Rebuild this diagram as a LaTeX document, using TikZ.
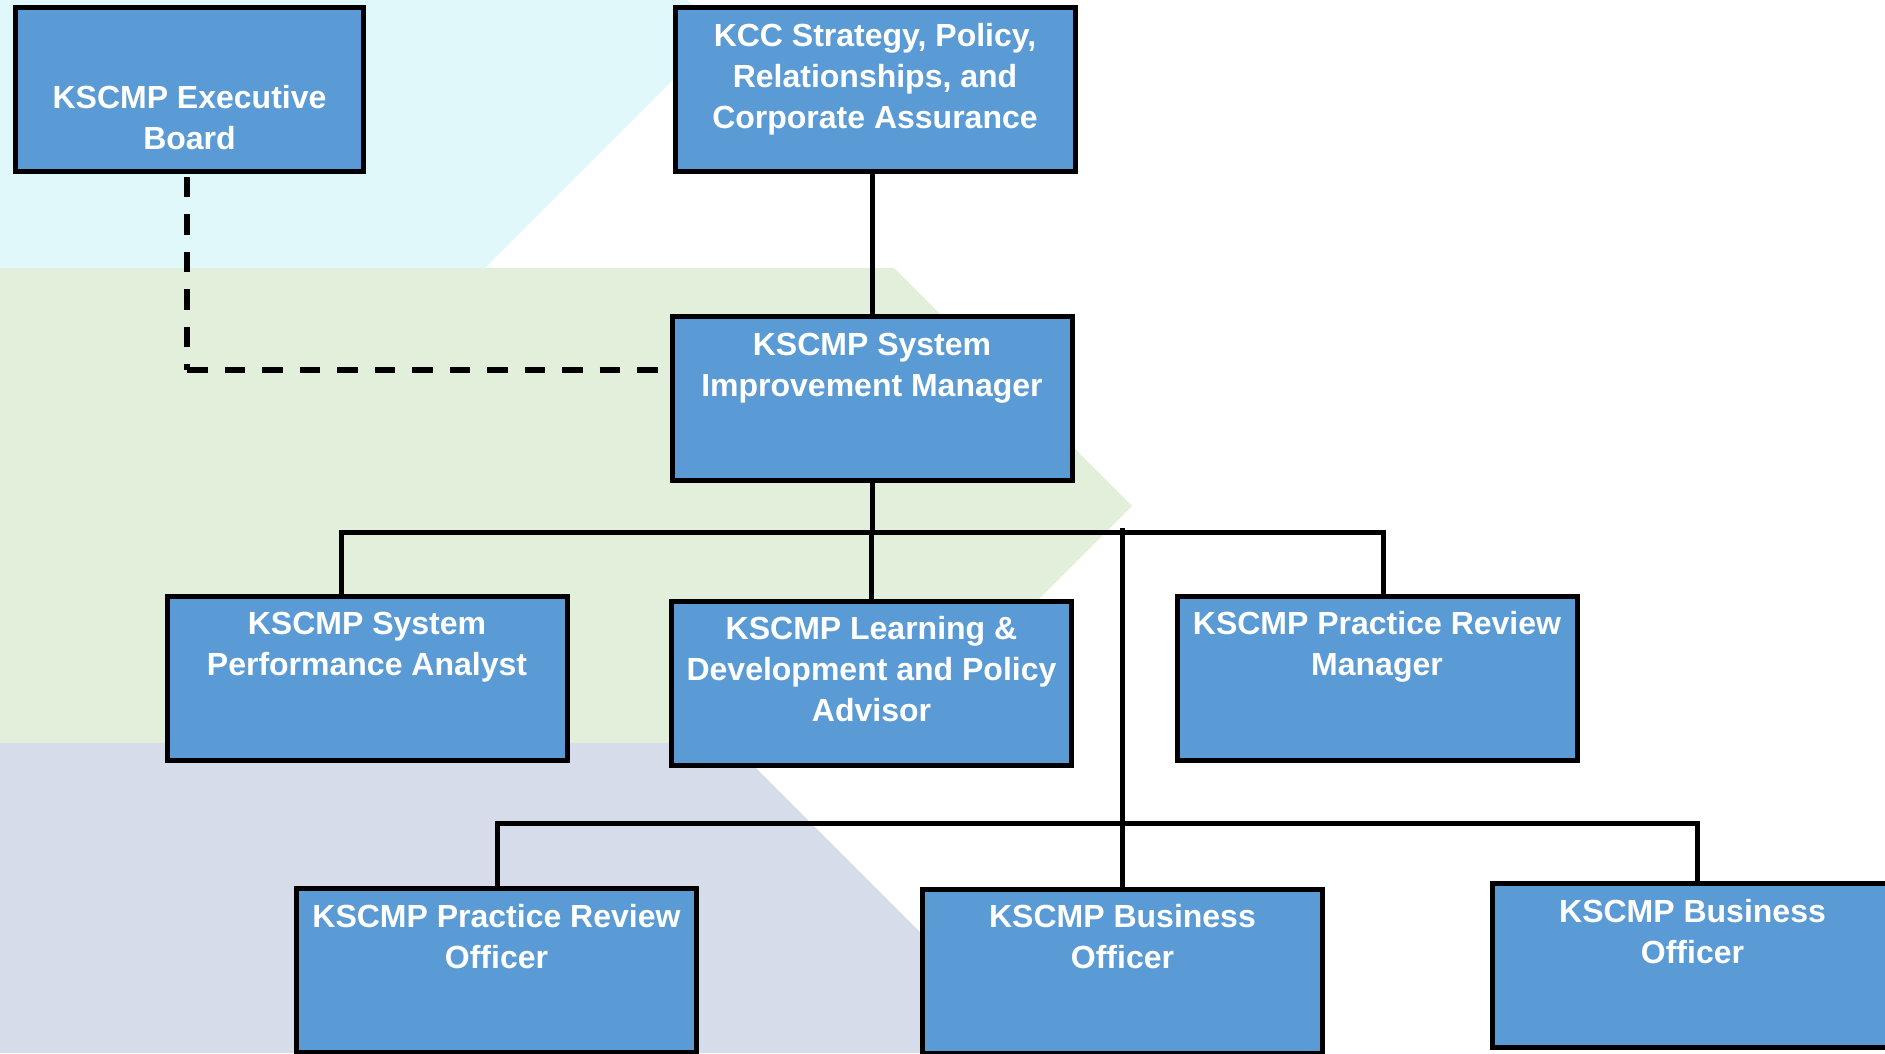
\documentclass[tikz,border=0pt]{standalone}
\usepackage{fontspec}
\setmainfont{Liberation Sans}
\usetikzlibrary{calc}
\definecolor{boxblue}{HTML}{5B9BD5}
\definecolor{bgcyan}{HTML}{E0F8F9}
\definecolor{bggreen}{HTML}{E2EFDA}
\definecolor{bgblue}{HTML}{D6DCE9}
\begin{document}
\begin{tikzpicture}[x=1pt,y=-1pt,
  rolebox/.style={draw=black, line width=5pt, fill=boxblue, rectangle, inner sep=0pt,
    minimum width=400pt, minimum height=164pt},
  roletext/.style={anchor=north, inner sep=0pt, align=center, text=white,
    font=\bfseries\fontsize{32}{41}\selectfont},
  conn/.style={draw=black, line width=5pt},
  dashln/.style={draw=black, line width=5.5pt, dash pattern=on 20.5pt off 17pt},
]
\useasboundingbox (0,0) rectangle (1885,1053);
\clip (0,0) rectangle (1885,1053);
% background bands
\fill[bgcyan] (0,0) -- (687,0) -- (720,33) -- (485,268) -- (0,268) -- cycle;
\fill[bggreen] (0,268) -- (894,268) -- (1132,506) -- (894,744) -- (0,744) -- cycle;
\fill[bgblue] (0,743) -- (731,743) -- (1041,1053) -- (0,1053) -- cycle;

% boxes
\node[rolebox, minimum width=348pt] (exec) at (189.5,89.5) {};
\node[rolebox] (kcc) at (875,89.5) {};
\node[rolebox] (sim) at (872,398.5) {};
\node[rolebox] (spa) at (367,678) {};
\node[rolebox] (ldp) at (871.5,683) {};
\node[rolebox] (prm) at (1377,678) {};
\node[rolebox] (pro) at (496.5,970.5) {};
\node[rolebox] (bo1) at (1122.5,971) {};
\node[rolebox] (bo2) at (1692.5,965.5) {};

% texts
\node[roletext] (exec-t) at ([yshift=-78pt]exec.north) {\rule{0pt}{25pt}KSCMP Executive\\Board};
\node[roletext] (kcc-t) at ([yshift=-16pt]kcc.north) {\rule{0pt}{25pt}KCC Strategy, Policy,\\Relationships, and\\Corporate Assurance};
\node[roletext] (sim-t) at ([yshift=-16pt]sim.north) {\rule{0pt}{25pt}KSCMP System\\Improvement Manager};
\node[roletext] (spa-t) at ([yshift=-16pt]spa.north) {\rule{0pt}{25pt}KSCMP System\\Performance Analyst};
\node[roletext] (ldp-t) at ([yshift=-16pt]ldp.north) {\rule{0pt}{25pt}KSCMP Learning \&\\Development and Policy\\Advisor};
\node[roletext] (prm-t) at ([yshift=-16pt]prm.north) {\rule{0pt}{25pt}KSCMP Practice Review\\Manager};
\node[roletext] (pro-t) at ([yshift=-16pt]pro.north) {\rule{0pt}{25pt}KSCMP Practice Review\\Officer};
\node[roletext] (bo1-t) at ([yshift=-16pt]bo1.north) {\rule{0pt}{25pt}KSCMP Business\\Officer};
\node[roletext] (bo2-t) at ([yshift=-16pt]bo2.north) {\rule{0pt}{25pt}KSCMP Business\\Officer};

% connector coordinates
\coordinate (b1L) at (341,532.5);
\coordinate (b1R) at (1383,532.5);
\coordinate (b2L) at (497.5,823);
\coordinate (b2R) at (1697,823);
\coordinate (dend) at (658.5,370);
\coordinate (dtop) at ([xshift=-2.5pt,yshift=-2.5pt]exec.south);

% connectors
\draw[dashln] (dtop) -- (dtop |- dend);
\draw[dashln] (dtop |- dend) -- (dend);
\draw[conn] (kcc.south -| sim.north) -- (sim.north);
\draw[conn] (sim.south) -- (sim.south |- b1L);
\draw[conn] (b1L |- spa.north) -- (b1L) -- (b1R) -- (b1R |- prm.north);
\draw[conn] (ldp.north) -- (ldp.north |- b1L);
\draw[conn] ($(bo1.north |- b1L)+(0,-5)$) -- (bo1.north);
\draw[conn] (b2L |- pro.north) -- (b2L) -- (b2R) -- (b2R |- bo2.north);
\end{tikzpicture}
\end{document}
